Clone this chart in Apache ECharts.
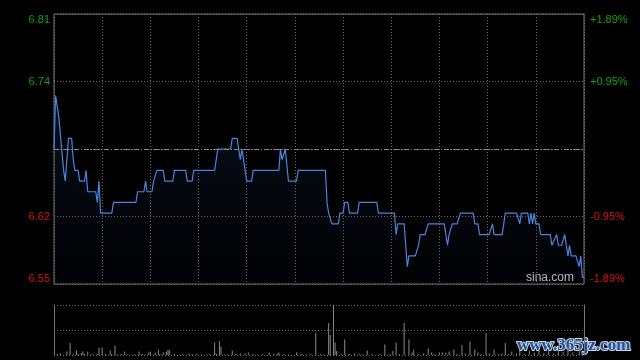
<!DOCTYPE html>
<html>
<head>
<meta charset="utf-8">
<script src="https://cdn.jsdelivr.net/npm/echarts@6/dist/echarts.min.js"></script>
<style>
html,body{margin:0;padding:0;background:#000;}
#c{width:640px;height:360px;}
</style>
</head>
<body>
<div id="c"></div>
<script>
// Previous close price
const prevClose = 6.68;
// Intraday price: minute index (0..330) and price at that minute
const priceMinutes = [0,1,2,3,4,6,7,8,9,11,12,13,15,16,19,20,21,26,27,28,29,36,37,51,52,56,57,58,61,62,63,64,68,69,74,75,82,83,86,87,100,101,102,110,111,114,115,116,117,118,119,120,123,124,140,141,142,143,144,145,146,151,152,169,170,171,172,173,177,178,180,181,183,184,189,190,201,202,212,213,214,218,220,221,225,227,228,231,233,243,245,246,247,248,251,253,261,262,264,265,271,273,274,279,281,288,290,291,295,296,297,298,299,300,302,303,309,310,311,313,314,316,318,319,320,321,322,325,327,328,329,330];
const priceValues = [6.68,6.73,6.73,6.71,6.71,6.66,6.65,6.65,6.69,6.69,6.67,6.66,6.66,6.65,6.65,6.66,6.64,6.64,6.63,6.65,6.62,6.62,6.63,6.63,6.64,6.64,6.65,6.64,6.64,6.65,6.65,6.66,6.66,6.65,6.65,6.66,6.66,6.65,6.65,6.66,6.66,6.67,6.68,6.68,6.69,6.69,6.68,6.67,6.68,6.68,6.66,6.65,6.65,6.66,6.66,6.68,6.67,6.67,6.68,6.68,6.65,6.65,6.66,6.66,6.63,6.62,6.62,6.61,6.61,6.62,6.62,6.63,6.63,6.62,6.62,6.63,6.63,6.62,6.62,6.60,6.61,6.61,6.57,6.58,6.58,6.59,6.60,6.60,6.61,6.61,6.59,6.60,6.60,6.61,6.61,6.62,6.62,6.61,6.61,6.60,6.60,6.61,6.60,6.60,6.62,6.62,6.61,6.62,6.62,6.61,6.62,6.61,6.62,6.61,6.61,6.60,6.60,6.59,6.59,6.60,6.59,6.59,6.60,6.59,6.58,6.59,6.58,6.58,6.57,6.58,6.56,6.56];
// Volume: minute index and relative volume
const volMinutes = [2,4,8,10,12,14,15,17,18,19,21,23,25,27,28,30,32,35,36,38,40,42,44,46,48,50,53,55,57,59,60,63,65,66,68,70,71,72,75,78,80,84,86,89,92,95,97,100,101,103,104,106,108,111,113,116,119,121,124,127,130,134,137,139,140,143,146,151,154,157,160,163,166,168,171,172,174,175,176,179,181,184,187,190,192,195,198,201,203,206,209,211,213,215,218,221,223,224,227,230,233,235,237,240,242,244,246,249,251,254,256,259,262,264,266,269,271,274,277,279,281,283,285,288,290,293,296,299,302,305,308,311,314,317,320,323,327,329];
const volValues = [2,3,7,24,2,9,2,4,7,2,7,2,1,2,15,15,2,9,2,19,1,2,7,2,1,2,7,2,1,5,7,5,11,2,5,7,11,9,2,1,2,3,2,3,2,1,2,25,3,28,17,2,1,9,2,3,3,5,2,1,2,5,2,3,5,2,1,5,2,1,2,44,2,1,64,40,100,25,8,2,31,2,3,2,1,9,2,1,2,21,2,8,25,2,64,31,5,11,2,3,13,5,2,5,5,5,7,11,2,20,3,27,11,5,2,44,3,11,2,3,24,2,7,3,15,2,9,5,12,4,8,3,10,6,16,5,19,6];

const toBp = p => (p / prevClose - 1) * 10000;
const lineData = priceMinutes.map((m, i) => [m, toBp(priceValues[i])]);
const volData = volMinutes.map((m, i) => [m, volValues[i]]);

const GREEN = '#10a010', RED = '#d81010';
const dotted = {color: '#6e6e6e', type: [1, 2], width: 1};
const font = 'Liberation Sans, Arial, sans-serif';
const bpMax = 189;

function pctLabel(v) {
  if (Math.abs(v) < 1e-6) return '';
  const s = Math.sign(v) * Math.round(Math.abs(v)) / 100;
  const t = (s > 0 ? '+' : '') + s.toFixed(2) + '%';
  return s > 0 ? '{g|' + t + '}' : '{r|' + t + '}';
}
function priceLabel(v) {
  if (Math.abs(v) < 1e-6) return '';
  const t = (prevClose * (1 + v / 10000)).toFixed(2);
  return v > 0 ? '{g|' + t + '}' : '{r|' + t + '}';
}
const rich = {g: {color: GREEN, fontSize: 11, fontFamily: font}, r: {color: RED, fontSize: 11, fontFamily: font}};

const chart = echarts.init(document.getElementById('c'), null, {renderer: 'canvas'});
chart.setOption({
  backgroundColor: '#000',
  animation: false,
  grid: [
    {left: 54, right: 56, top: 14, height: 270, show: true, borderColor: '#777', borderWidth: 1, backgroundColor: 'transparent'},
    {left: 54, right: 56, top: 305, height: 50, show: false}
  ],
  xAxis: [
    {type: 'value', gridIndex: 0, min: 0, max: 330, interval: 30,
     axisLine: {show: false}, axisTick: {show: false}, axisLabel: {show: false},
     splitLine: {show: true, lineStyle: dotted, interval: (i, v) => v > 0 && v < 330}},
    {type: 'value', gridIndex: 1, min: 0, max: 330, interval: 30,
     axisLine: {show: false}, axisTick: {show: false}, axisLabel: {show: false}, splitLine: {show: false}}
  ],
  yAxis: [
    {type: 'value', gridIndex: 0, position: 'left', min: -bpMax, max: bpMax, interval: 94.5,
     axisLine: {show: false}, axisTick: {show: false},
     axisLabel: {formatter: priceLabel, rich: rich, margin: 4, verticalAlignMinLabel: 'bottom', verticalAlignMaxLabel: 'top'},
     splitLine: {show: true, lineStyle: dotted, interval: (i, v) => Math.abs(v) > 1 && Math.abs(v) < 150}},
    {type: 'value', gridIndex: 0, position: 'right', min: -bpMax, max: bpMax, interval: 94.5,
     axisLine: {show: false}, axisTick: {show: false},
     axisLabel: {formatter: pctLabel, rich: rich, margin: 6, verticalAlignMinLabel: 'bottom', verticalAlignMaxLabel: 'top'},
     splitLine: {show: false}},
    {type: 'value', gridIndex: 1, position: 'left', min: 0, max: 100, interval: 50,
     axisLine: {show: true, lineStyle: {color: '#777'}}, axisTick: {show: false}, axisLabel: {show: false},
     splitLine: {show: true, lineStyle: dotted}},
    {type: 'value', gridIndex: 1, position: 'right', min: 0, max: 100, interval: 50,
     axisLine: {show: true, lineStyle: {color: '#777'}}, axisTick: {show: false}, axisLabel: {show: false},
     splitLine: {show: false}}
  ],
  series: [
    {type: 'line', xAxisIndex: 0, yAxisIndex: 0, data: lineData, showSymbol: false, symbol: 'none',
     lineStyle: {color: '#4a84dc', width: 1.2},
     areaStyle: {origin: 'start', color: new echarts.graphic.LinearGradient(0, 0, 0, 1, [
       {offset: 0, color: 'rgba(40,75,140,0.28)'}, {offset: 1, color: 'rgba(20,30,60,0.12)'}])},
     markLine: {silent: true, symbol: 'none', label: {show: false},
       lineStyle: {color: '#8a8a8a', type: [5, 2, 1, 2], width: 1},
       data: [{yAxis: 0}]}},
    {type: 'bar', xAxisIndex: 1, yAxisIndex: 2, data: volData, barWidth: 1,
     itemStyle: {color: '#8a8a8a'}}
  ],
  graphic: [
    {type: 'text', right: 66, top: 272, style: {text: 'sina.com', fill: '#c4c4c4', font: '12px Liberation Sans, Arial, sans-serif'}},
    {type: 'text', left: 516, top: 336, style: {text: 'www.365jz.com', fill: '#1f4f9a', font: 'bold 17px Liberation Serif, Times New Roman, serif', stroke: '#c8d4e8', lineWidth: 2}}
  ]
});
</script>
</body>
</html>
